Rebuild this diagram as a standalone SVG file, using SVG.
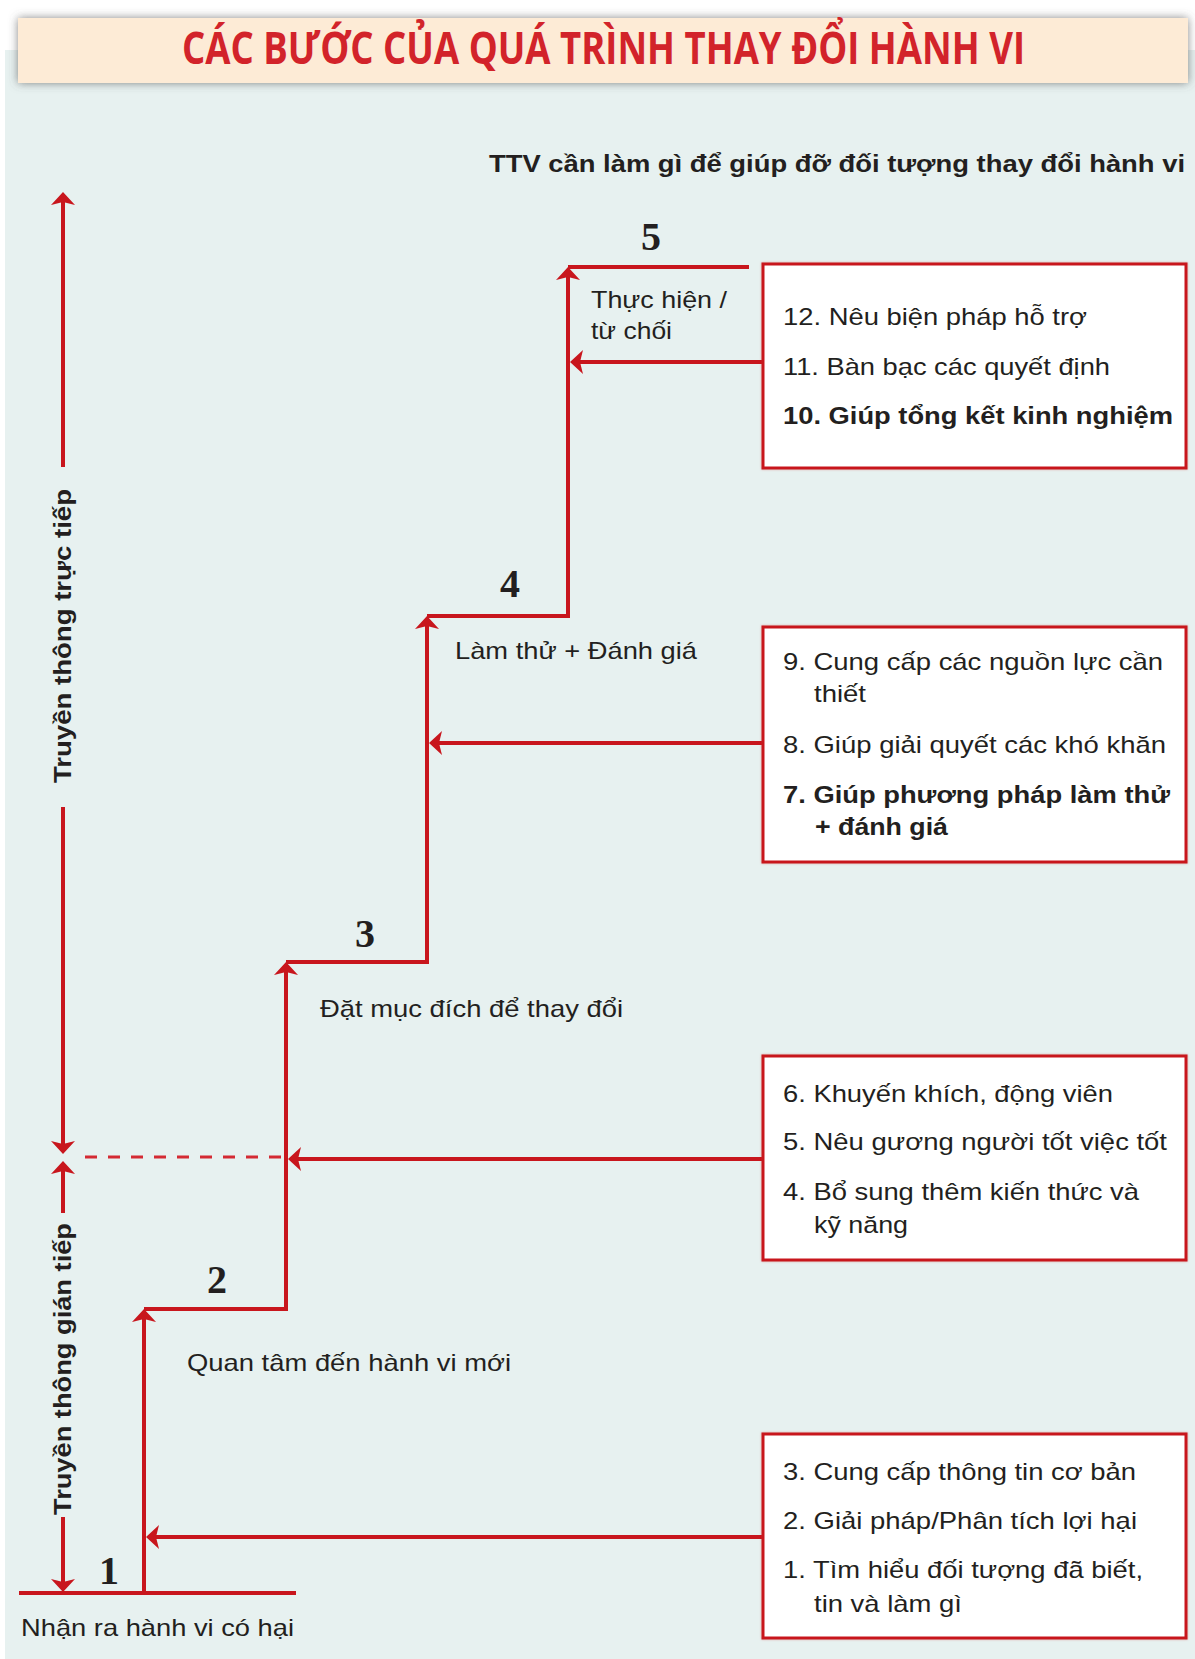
<svg xmlns="http://www.w3.org/2000/svg" width="1195" height="1659" viewBox="0 0 1195 1659">
<defs>
<style>
.t{font-family:"Liberation Sans",Arial,sans-serif;font-size:24px;fill:#231f20}
.b{font-weight:bold}
.n{font-family:"Liberation Serif","Times New Roman",serif;font-size:40px;font-weight:bold;fill:#231f20;text-anchor:middle}
.ln{fill:none;stroke:#c8161d;stroke-width:4}
.box{fill:#ffffff;stroke:#c8161d;stroke-width:3}
</style>
<marker id="ah" viewBox="-8 -13 15 26" refX="0" refY="0" markerWidth="15" markerHeight="26" markerUnits="userSpaceOnUse" orient="auto">
<path d="M6,0 L-7,-12 L-4,0 L-7,12 Z" fill="#c8161d"/>
</marker>
<filter id="sh" x="-5%" y="-40%" width="110%" height="180%">
<feDropShadow dx="0" dy="0" stdDeviation="5" flood-color="#555" flood-opacity="0.7"/>
</filter>
<filter id="bs" x="-5%" y="-5%" width="110%" height="110%">
<feDropShadow dx="0" dy="0" stdDeviation="1.2" flood-color="#c8161d" flood-opacity="0.35"/>
</filter>
</defs>
<rect x="0" y="0" width="1195" height="1659" fill="#ffffff"/>
<rect x="5" y="50" width="1190" height="1609" fill="#e7f1f0"/>

<g id="header">
<rect x="18" y="18" width="1170" height="65" fill="#fdebd6" filter="url(#sh)"/>
<text x="182" y="64" textLength="843" lengthAdjust="spacingAndGlyphs" style="font-family:'Open Sans','Liberation Sans',sans-serif;font-size:44px;font-weight:bold;fill:#d2232a">CÁC BƯỚC CỦA QUÁ TRÌNH THAY ĐỔI HÀNH VI</text>
</g>

<g id="subtitle">
<text class="t b" x="489" y="172" textLength="696" lengthAdjust="spacingAndGlyphs">TTV cần làm gì để giúp đỡ đối tượng thay đổi hành vi</text>
</g>

<g id="connectors">
<path class="ln" d="M19,1593 H296"/>
<path class="ln" d="M144,1593 V1315" marker-end="url(#ah)"/>
<path class="ln" d="M144,1309 H286 V968" marker-end="url(#ah)"/>
<path class="ln" d="M286,962 H427 V622" marker-end="url(#ah)"/>
<path class="ln" d="M427,616 H568 V273" marker-end="url(#ah)"/>
<path class="ln" d="M568,267 H749"/>
<path class="ln" d="M763,362 H576" marker-end="url(#ah)"/>
<path class="ln" d="M763,743 H435" marker-end="url(#ah)"/>
<path class="ln" d="M763,1159 H294" marker-end="url(#ah)"/>
<path class="ln" d="M763,1537 H152" marker-end="url(#ah)"/>
<path class="ln" d="M63,467 V198" marker-end="url(#ah)"/>
<path class="ln" d="M63,807 V1148" marker-end="url(#ah)"/>
<path class="ln" d="M63,1213 V1167" marker-end="url(#ah)"/>
<path class="ln" d="M63,1517 V1586" marker-end="url(#ah)"/>
<path d="M85,1157 H285" fill="none" stroke="#d42a33" stroke-width="3" stroke-dasharray="12 11"/>
</g>

<g id="axis-direct">
<text class="t b" transform="translate(71,636) rotate(-90)" text-anchor="middle" textLength="294" lengthAdjust="spacingAndGlyphs" style="font-size:23px">Truyền thông trực tiếp</text>
</g>
<g id="axis-indirect">
<text class="t b" transform="translate(71,1369) rotate(-90)" text-anchor="middle" textLength="292" lengthAdjust="spacingAndGlyphs" style="font-size:23px">Truyền thông gián tiếp</text>
</g>

<g id="step1">
<text class="n" x="109" y="1584">1</text>
<text class="t" x="21" y="1636" textLength="273" lengthAdjust="spacingAndGlyphs">Nhận ra hành vi có hại</text>
</g>
<g id="step2">
<text class="n" x="217" y="1293">2</text>
<text class="t" x="187" y="1371" textLength="324" lengthAdjust="spacingAndGlyphs">Quan tâm đến hành vi mới</text>
</g>
<g id="step3">
<text class="n" x="365" y="947">3</text>
<text class="t" x="320" y="1017" textLength="303" lengthAdjust="spacingAndGlyphs">Đặt mục đích để thay đổi</text>
</g>
<g id="step4">
<text class="n" x="510" y="597">4</text>
<text class="t" x="455" y="659" textLength="242" lengthAdjust="spacingAndGlyphs">Làm thử + Đánh giá</text>
</g>
<g id="step5">
<text class="n" x="651" y="250">5</text>
<text class="t" x="591" y="308" textLength="136" lengthAdjust="spacingAndGlyphs">Thực hiện /</text>
<text class="t" x="591" y="339" textLength="81" lengthAdjust="spacingAndGlyphs">từ chối</text>
</g>

<g id="box5">
<rect class="box" x="763" y="264" width="423" height="204" filter="url(#bs)"/>
<text class="t" x="783" y="325" textLength="304" lengthAdjust="spacingAndGlyphs">12. Nêu biện pháp hỗ trợ</text>
<text class="t" x="783" y="375" textLength="327" lengthAdjust="spacingAndGlyphs">11. Bàn bạc các quyết định</text>
<text class="t b" x="783" y="424" textLength="390" lengthAdjust="spacingAndGlyphs">10. Giúp tổng kết kinh nghiệm</text>
</g>

<g id="box4">
<rect class="box" x="763" y="627" width="423" height="235" filter="url(#bs)"/>
<text class="t" x="783" y="670" textLength="380" lengthAdjust="spacingAndGlyphs">9. Cung cấp các nguồn lực cần</text>
<text class="t" x="814" y="702" textLength="52" lengthAdjust="spacingAndGlyphs">thiết</text>
<text class="t" x="783" y="753" textLength="383" lengthAdjust="spacingAndGlyphs">8. Giúp giải quyết các khó khăn</text>
<text class="t b" x="783" y="803" textLength="387" lengthAdjust="spacingAndGlyphs">7. Giúp phương pháp làm thử</text>
<text class="t b" x="815" y="835" textLength="133" lengthAdjust="spacingAndGlyphs">+ đánh giá</text>
</g>

<g id="box3">
<rect class="box" x="763" y="1056" width="423" height="204" filter="url(#bs)"/>
<text class="t" x="783" y="1102" textLength="330" lengthAdjust="spacingAndGlyphs">6. Khuyến khích, động viên</text>
<text class="t" x="783" y="1150" textLength="384" lengthAdjust="spacingAndGlyphs">5. Nêu gương người tốt việc tốt</text>
<text class="t" x="783" y="1200" textLength="356" lengthAdjust="spacingAndGlyphs">4. Bổ sung thêm kiến thức và</text>
<text class="t" x="814" y="1233" textLength="94" lengthAdjust="spacingAndGlyphs">kỹ năng</text>
</g>

<g id="box1">
<rect class="box" x="763" y="1434" width="423" height="204" filter="url(#bs)"/>
<text class="t" x="783" y="1480" textLength="353" lengthAdjust="spacingAndGlyphs">3. Cung cấp thông tin cơ bản</text>
<text class="t" x="783" y="1529" textLength="354" lengthAdjust="spacingAndGlyphs">2. Giải pháp/Phân tích lợi hại</text>
<text class="t" x="783" y="1578" textLength="360" lengthAdjust="spacingAndGlyphs">1. Tìm hiểu đối tượng đã biết,</text>
<text class="t" x="814" y="1612" textLength="148" lengthAdjust="spacingAndGlyphs">tin và làm gì</text>
</g>
</svg>
